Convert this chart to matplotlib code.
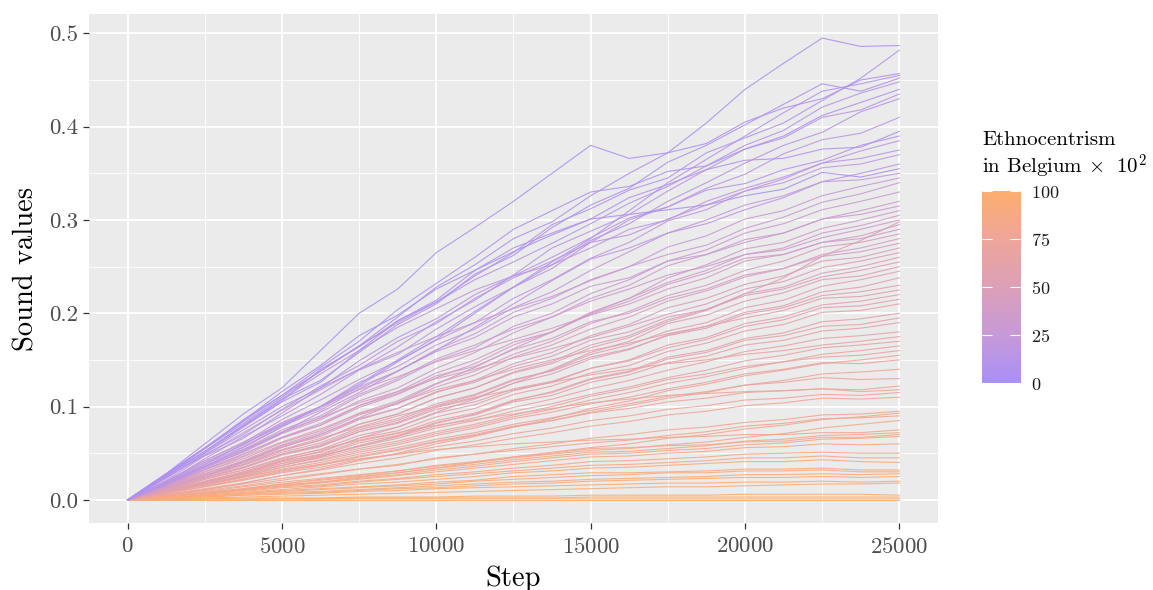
import matplotlib

matplotlib.use("Agg")
import matplotlib.pyplot as plt
import numpy as np
from matplotlib.colors import LinearSegmentedColormap

plt.rcParams["font.family"] = "serif"
plt.rcParams["font.serif"] = ["cmr10", "DejaVu Serif"]
plt.rcParams["mathtext.fontset"] = "cm"
plt.rcParams["axes.formatter.use_mathtext"] = True

steps = list(range(0, 25001, 1250))

# ethnocentrism (x100) of each run and its sound values (x1000) at the steps above
ethno = [
    3, 8, 5, 10, 6, 12, 4, 14, 9, 16, 7, 11, 18, 13, 20, 15, 2, 22,
    25, 28, 30, 33, 27, 35, 38, 31, 40, 36, 42, 44, 39,
    46, 48, 50, 47, 52, 55, 54, 56, 53, 58, 60, 57, 62, 59, 64, 63,
    66, 68, 65, 70, 67, 72, 69, 74, 71, 76, 73, 75, 78,
    80, 82, 79, 84, 81, 85, 83, 86, 87, 88, 89, 90, 91, 92, 93, 94, 95, 96, 97, 98, 99, 100,
]
runs = [
    [0, 28, 60, 92, 120, 160, 200, 226, 265, 292, 320, 350, 380, 366, 372, 404, 440, 468, 495, 486, 487],
    [0, 24, 50, 78, 105, 126, 160, 192, 212, 240, 265, 295, 312, 332, 345, 372, 388, 404, 428, 452, 482],
    [0, 27, 55, 82, 110, 138, 165, 196, 228, 252, 280, 298, 326, 350, 372, 382, 405, 420, 430, 450, 457],
    [0, 18, 38, 60, 80, 100, 122, 148, 172, 200, 228, 255, 280, 310, 340, 365, 390, 415, 438, 446, 455],
    [0, 26, 52, 80, 108, 128, 158, 188, 210, 242, 262, 292, 316, 334, 362, 380, 402, 424, 446, 438, 452],
    [0, 26, 55, 84, 112, 138, 165, 190, 212, 236, 255, 275, 296, 318, 336, 358, 380, 396, 421, 436, 448],
    [0, 28, 55, 86, 112, 142, 170, 204, 232, 260, 290, 310, 330, 336, 352, 358, 376, 390, 412, 426, 440],
    [0, 21, 47, 66, 93, 120, 140, 164, 191, 214, 241, 270, 288, 306, 331, 354, 376, 388, 410, 418, 435],
    [0, 17, 36, 56, 78, 100, 124, 150, 175, 202, 228, 252, 278, 296, 320, 340, 361, 380, 394, 416, 430],
    [0, 19, 44, 68, 90, 113, 139, 156, 183, 207, 228, 248, 276, 300, 314, 334, 349, 371, 386, 393, 410],
    [0, 26, 52, 79, 106, 140, 164, 192, 214, 246, 270, 286, 301, 324, 338, 354, 364, 366, 376, 378, 395],
    [0, 23, 50, 75, 100, 120, 149, 174, 194, 220, 240, 260, 281, 302, 314, 332, 339, 354, 364, 380, 390],
    [0, 25, 52, 80, 108, 135, 160, 185, 205, 225, 240, 252, 270, 290, 300, 320, 334, 346, 361, 374, 385],
    [0, 24, 48, 70, 97, 122, 144, 170, 189, 216, 238, 256, 276, 284, 301, 316, 331, 344, 361, 366, 375],
    [0, 20, 42, 61, 86, 107, 129, 149, 171, 190, 216, 236, 259, 276, 299, 311, 331, 340, 356, 360, 370],
    [0, 16, 34, 52, 72, 94, 115, 138, 160, 185, 210, 235, 258, 270, 286, 296, 311, 324, 341, 350, 360],
    [0, 28, 56, 85, 116, 144, 176, 198, 226, 246, 266, 284, 301, 306, 311, 316, 326, 333, 351, 346, 355],
    [0, 19, 40, 59, 83, 100, 126, 143, 166, 183, 206, 223, 246, 266, 286, 300, 316, 326, 341, 343, 350],
    [0, 18, 38, 57, 79, 96, 119, 138, 161, 178, 201, 216, 236, 250, 271, 283, 301, 310, 326, 336, 345],
    [0, 24, 48, 72, 96, 118, 140, 158, 175, 190, 205, 218, 235, 250, 263, 273, 291, 303, 319, 328, 340],
    [0, 17, 36, 53, 73, 88, 111, 128, 149, 163, 186, 200, 221, 236, 256, 268, 286, 296, 311, 320, 330],
    [0, 17, 35, 51, 71, 86, 106, 120, 141, 158, 179, 196, 216, 230, 251, 263, 279, 286, 301, 310, 320],
    [0, 19, 40, 59, 81, 98, 121, 138, 159, 174, 196, 210, 229, 238, 256, 263, 276, 286, 301, 306, 315],
    [0, 12, 26, 40, 56, 70, 88, 104, 124, 142, 162, 180, 200, 216, 238, 252, 269, 276, 291, 300, 310],
    [0, 15, 32, 47, 66, 80, 99, 113, 131, 146, 166, 180, 201, 216, 233, 246, 263, 270, 286, 294, 305],
    [0, 18, 36, 54, 75, 90, 113, 130, 151, 166, 183, 196, 213, 226, 241, 250, 263, 268, 281, 290, 300],
    [0, 20, 42, 62, 82, 100, 118, 132, 148, 160, 172, 184, 198, 210, 226, 238, 256, 263, 276, 283, 295],
    [0, 16, 33, 49, 67, 82, 101, 116, 136, 150, 169, 180, 199, 213, 231, 243, 259, 263, 276, 280, 290],
    [0, 14, 30, 44, 61, 74, 93, 106, 125, 138, 156, 170, 189, 202, 219, 230, 246, 256, 271, 276, 285],
    [0, 13, 28, 42, 59, 72, 91, 103, 121, 134, 153, 166, 183, 196, 213, 224, 239, 248, 263, 270, 280],
    [0, 15, 32, 49, 67, 80, 101, 114, 133, 143, 161, 173, 191, 200, 216, 226, 241, 248, 261, 266, 275],
    [0, 13, 28, 41, 57, 68, 86, 98, 115, 128, 146, 158, 176, 188, 206, 216, 231, 240, 256, 260, 270],
    [0, 18, 36, 54, 72, 88, 104, 116, 130, 140, 152, 162, 174, 186, 199, 210, 226, 234, 249, 256, 265],
    [0, 12, 26, 38, 53, 64, 81, 92, 109, 120, 137, 148, 166, 176, 193, 204, 221, 228, 243, 250, 260],
    [0, 14, 28, 41, 58, 70, 87, 98, 116, 126, 143, 154, 171, 180, 196, 204, 219, 226, 239, 246, 255],
    [0, 9, 19, 30, 42, 52, 66, 78, 94, 108, 125, 140, 158, 170, 189, 198, 213, 222, 236, 240, 250],
    [0, 12, 26, 38, 53, 64, 81, 92, 109, 120, 136, 146, 163, 174, 191, 203, 221, 238, 261, 278, 298],
    [0, 11, 24, 35, 49, 59, 75, 85, 101, 112, 128, 139, 156, 166, 181, 190, 206, 214, 229, 236, 245],
    [0, 11, 23, 34, 48, 57, 73, 83, 99, 109, 125, 135, 151, 161, 177, 186, 201, 208, 223, 228, 238],
    [0, 12, 25, 37, 51, 61, 77, 87, 103, 113, 129, 138, 153, 162, 176, 184, 199, 206, 219, 223, 230],
    [0, 15, 30, 46, 62, 76, 92, 104, 118, 128, 140, 150, 160, 168, 178, 186, 195, 203, 216, 218, 225],
    [0, 10, 22, 32, 45, 54, 69, 78, 93, 102, 117, 126, 141, 150, 166, 174, 189, 196, 209, 213, 220],
    [0, 11, 24, 35, 49, 58, 73, 82, 97, 105, 119, 127, 141, 149, 163, 172, 186, 193, 206, 208, 215],
    [0, 10, 20, 30, 43, 51, 66, 74, 89, 98, 113, 122, 136, 144, 159, 168, 181, 188, 201, 203, 210],
    [0, 8, 17, 26, 37, 46, 58, 68, 82, 92, 106, 116, 130, 138, 153, 160, 173, 179, 191, 194, 200],
    [0, 9, 19, 28, 41, 49, 63, 71, 85, 93, 107, 115, 129, 137, 151, 158, 171, 176, 186, 188, 195],
    [0, 10, 20, 29, 41, 48, 61, 69, 83, 91, 105, 112, 126, 134, 147, 154, 166, 171, 181, 184, 190],
    [0, 9, 18, 28, 39, 47, 58, 68, 79, 88, 99, 108, 119, 128, 139, 148, 159, 165, 173, 176, 180],
    [0, 13, 26, 40, 54, 66, 78, 90, 100, 110, 118, 126, 134, 140, 146, 150, 156, 160, 166, 170, 175],
    [0, 10, 19, 28, 39, 47, 57, 66, 77, 85, 95, 103, 113, 121, 131, 139, 149, 155, 163, 166, 170],
    [0, 8, 16, 25, 35, 43, 53, 61, 71, 79, 89, 97, 107, 115, 125, 132, 141, 148, 156, 160, 165],
    [0, 9, 18, 27, 37, 45, 55, 63, 73, 81, 91, 100, 111, 119, 129, 135, 143, 148, 153, 155, 160],
    [0, 5, 11, 18, 26, 33, 42, 50, 60, 68, 78, 87, 98, 106, 117, 124, 133, 139, 146, 150, 155],
    [0, 9, 17, 25, 35, 42, 51, 59, 69, 77, 87, 94, 103, 110, 119, 126, 135, 140, 147, 146, 150],
    [0, 7, 14, 22, 30, 37, 46, 53, 62, 69, 78, 85, 94, 101, 109, 115, 123, 128, 135, 137, 140],
    [0, 8, 16, 24, 33, 40, 49, 56, 65, 72, 81, 88, 96, 103, 111, 116, 123, 126, 131, 129, 130],
    [0, 11, 22, 32, 44, 54, 64, 72, 80, 86, 92, 98, 104, 108, 112, 114, 116, 117, 119, 118, 122],
    [0, 8, 15, 22, 31, 38, 47, 54, 63, 70, 79, 85, 93, 98, 105, 109, 115, 117, 119, 116, 118],
    [0, 7, 14, 21, 29, 35, 43, 49, 57, 63, 71, 77, 85, 90, 97, 101, 107, 109, 113, 112, 115],
    [0, 6, 12, 18, 26, 32, 39, 45, 53, 59, 66, 72, 79, 84, 91, 95, 101, 104, 109, 108, 110],
    [0, 5, 10, 15, 21, 27, 33, 38, 44, 49, 55, 60, 66, 70, 75, 78, 83, 86, 91, 92, 95],
    [0, 3, 7, 11, 15, 19, 24, 29, 34, 40, 46, 51, 56, 60, 66, 70, 76, 80, 86, 89, 93],
    [0, 6, 11, 17, 23, 28, 33, 37, 45, 49, 53, 57, 61, 64, 69, 73, 79, 82, 87, 88, 90],
    [0, 4, 8, 12, 17, 22, 26, 31, 36, 40, 45, 49, 53, 55, 59, 62, 67, 71, 77, 81, 85],
    [0, 8, 16, 24, 32, 38, 44, 49, 54, 57, 60, 62, 64, 65, 67, 68, 70, 70, 72, 72, 75],
    [0, 4, 8, 12, 17, 21, 25, 29, 34, 38, 43, 47, 51, 52, 55, 58, 63, 65, 69, 70, 72],
    [0, 5, 9, 14, 19, 23, 27, 31, 37, 41, 46, 50, 55, 56, 58, 59, 62, 63, 67, 67, 70],
    [0, 4, 7, 11, 16, 19, 23, 27, 32, 36, 41, 45, 49, 50, 53, 55, 59, 61, 65, 66, 68],
    [0, 4, 7, 11, 15, 18, 22, 26, 30, 34, 38, 42, 46, 47, 50, 52, 56, 57, 60, 59, 60],
    [0, 3, 6, 10, 14, 16, 20, 23, 27, 30, 34, 37, 41, 42, 44, 46, 49, 50, 51, 50, 50],
    [0, 3, 6, 9, 13, 15, 19, 22, 25, 28, 31, 34, 37, 38, 40, 42, 45, 45, 47, 45, 45],
    [0, 3, 5, 8, 11, 14, 17, 19, 22, 25, 29, 31, 34, 35, 37, 39, 41, 41, 43, 41, 40],
    [0, 3, 5, 7, 10, 12, 14, 16, 19, 21, 25, 27, 29, 29, 30, 31, 33, 33, 34, 32, 32],
    [0, 2, 4, 7, 9, 11, 13, 15, 17, 20, 22, 24, 26, 27, 29, 29, 31, 31, 32, 30, 30],
    [0, 2, 4, 6, 8, 9, 11, 13, 15, 17, 19, 20, 22, 23, 24, 25, 27, 27, 28, 27, 28],
    [0, 2, 3, 5, 7, 8, 10, 12, 13, 15, 17, 18, 20, 21, 22, 23, 24, 24, 25, 24, 25],
    [0, 2, 3, 5, 6, 7, 9, 10, 12, 13, 14, 15, 16, 17, 18, 18, 19, 19, 20, 19, 20],
    [0, 1, 2, 3, 4, 5, 6, 7, 8, 9, 10, 11, 12, 13, 14, 14, 15, 16, 17, 17, 18],
    [0, 1, 1, 2, 2, 2, 3, 3, 3, 4, 4, 4, 5, 5, 5, 5, 6, 6, 6, 6, 5],
    [0, 0, 1, 1, 1, 1, 2, 2, 2, 2, 2, 2, 3, 3, 3, 3, 3, 3, 3, 3, 3],
    [0, 0, 0, 0, 1, 1, 1, 1, 1, 1, 1, 1, 1, 1, 1, 1, 1, 1, 1, 1, 1],
    [0, 0, 0, 0, 0, 0, 0, 0, 0, 0, 0, 0, 0, 0, 0, 0, 0, 0, 0, 0, 0],
]

legend_ticks = [0, 25, 50, 75, 100]

cmap = LinearSegmentedColormap.from_list(
    "ethno", ["#a990f8", "#c79ad8", "#dca0b8", "#efa69a", "#fdae6e"]
)

fig = plt.figure(figsize=(11.53, 5.9), dpi=100)
ax = fig.add_axes([0.0772, 0.1136, 0.7363, 0.8627])
ax.set_facecolor("#ebebeb")

# draw the low-ethnocentrism runs last so they sit on top
order = np.argsort(ethno)[::-1]
for i in order:
    ax.plot(steps, np.array(runs[i]) / 1000, color=cmap(ethno[i] / 100),
            linewidth=0.8, alpha=0.9, zorder=2)

ax.set_xlim(-1250, 26250)
ax.set_ylim(-0.0248, 0.5208)
ax.set_xticks([0, 5000, 10000, 15000, 20000, 25000])
ax.set_xticks([2500, 7500, 12500, 17500, 22500], minor=True)
ax.set_yticks([0.0, 0.1, 0.2, 0.3, 0.4, 0.5])
ax.set_yticks([0.05, 0.15, 0.25, 0.35, 0.45], minor=True)
ax.set_yticklabels(["0.0", "0.1", "0.2", "0.3", "0.4", "0.5"])
ax.grid(which="major", color="white", linewidth=1.3, zorder=0)
ax.grid(which="minor", color="white", linewidth=0.6, zorder=0)
ax.set_axisbelow(True)
for s in ax.spines.values():
    s.set_visible(False)
ax.tick_params(which="major", length=4, width=0.9, color="#333333",
               labelsize=16.5, labelcolor="#4d4d4d", pad=4)
ax.tick_params(axis="x", which="major", pad=6)
ax.tick_params(which="minor", length=0)
ax.set_xlabel("Step", fontsize=20.5, labelpad=6)
ax.set_ylabel("Sound values", fontsize=20.5, labelpad=7)

# colour bar legend
cax = fig.add_axes([0.8517, 0.3508, 0.033, 0.3254])
grad = np.linspace(0, 100, 256).reshape(-1, 1)
cax.imshow(grad, cmap=cmap, origin="lower", aspect="auto",
           extent=[0, 1, 0, 100])
cax.set_xlim(0, 1)
cax.set_ylim(0, 100)
cax.set_xticks([])
cax.set_yticks(legend_ticks)
cax.yaxis.tick_right()
cax.tick_params(axis="y", left=True, right=True, direction="in", length=7,
                width=0.8, color="white", labelsize=13, labelcolor="#1a1a1a",
                pad=8)
for s in cax.spines.values():
    s.set_visible(False)
fig.text(0.8517, 0.693, "Ethnocentrism\nin Belgium $\\times\\ \\ 10^2$",
         fontsize=15, ha="left", va="bottom", linespacing=1.2)

fig.savefig("out.png", dpi=100)
